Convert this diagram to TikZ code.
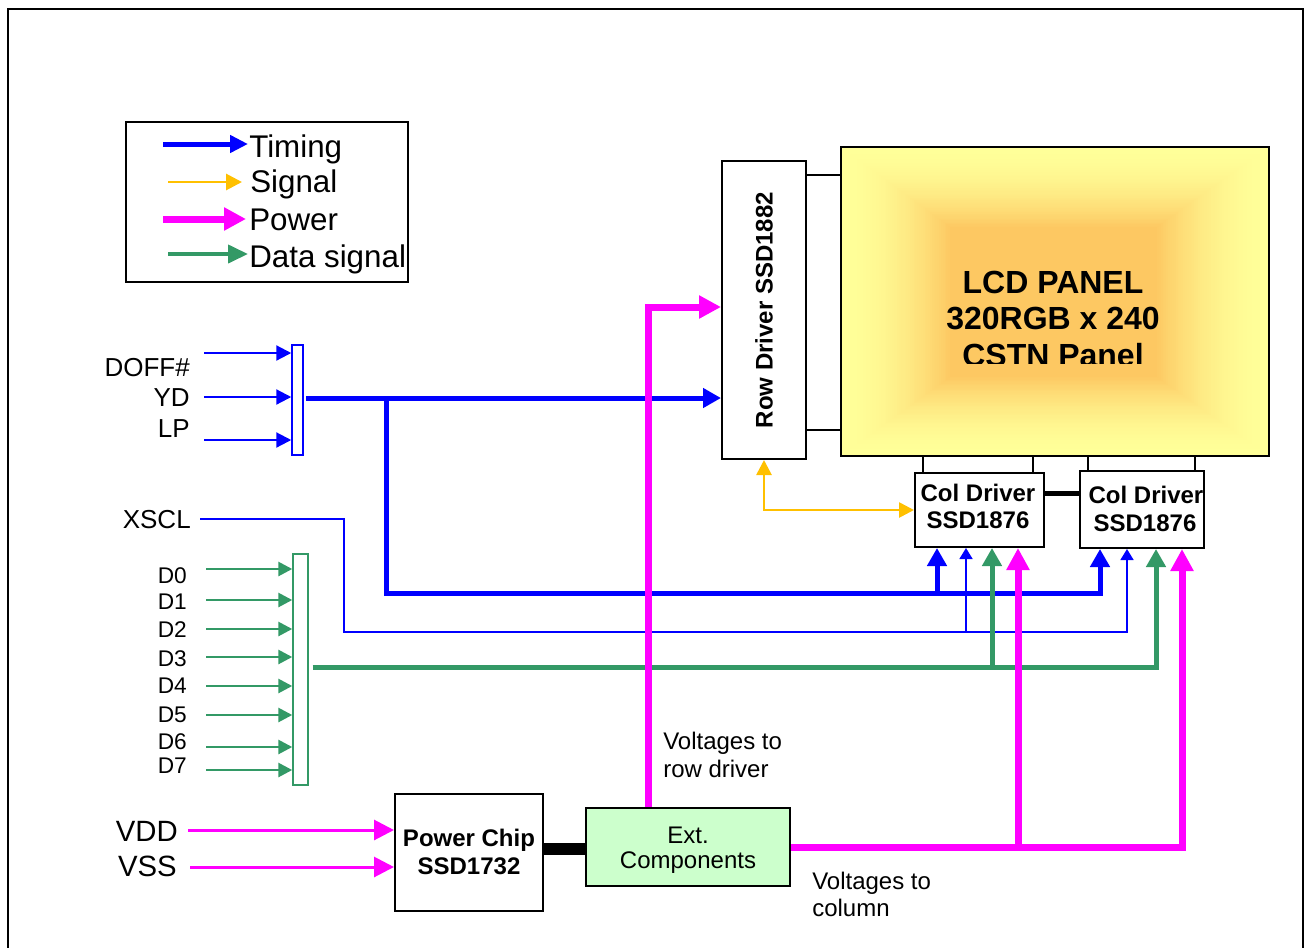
\documentclass[tikz,border=0pt]{standalone}
\usepackage{fontspec}
\setmainfont{Liberation Sans}
\usetikzlibrary{arrows.meta,calc}
\definecolor{tblue}{HTML}{0000FF}
\definecolor{syel}{HTML}{FFC000}
\definecolor{pmag}{HTML}{FF00FF}
\definecolor{dgrn}{HTML}{339966}
\definecolor{extg}{HTML}{CCFFCC}
\definecolor{lcdout}{HTML}{FFFF99}
\definecolor{lcdin}{HTML}{FDC862}
\begin{document}
\begin{tikzpicture}[x=0.75pt,y=-0.75pt,
  box/.style={draw, line width=1.5pt, inner sep=0pt, fill=white},
  lbl/.style={font=\fontsize{19.5}{22}\selectfont, inner sep=0pt},
  vlbl/.style={font=\fontsize{22}{25}\selectfont, inner sep=0pt},
  dlbl/.style={font=\fontsize{17}{20}\selectfont, inner sep=0pt},
  btxt/.style={font=\bfseries\fontsize{18}{21}\selectfont, inner sep=0pt},
  ntxt/.style={font=\fontsize{18}{21}\selectfont, inner sep=0pt},
  legtxt/.style={font=\fontsize{23.5}{28}\selectfont, inner sep=0pt},
  lcdtxt/.style={font=\bfseries\fontsize{24}{28}\selectfont, inner sep=0pt},
  tarrowthick/.style={draw=tblue, line width=3.75pt, -{Triangle[length=13.5pt,width=14.25pt]}},
  tarrowin/.style={draw=tblue, line width=1.6pt, -{Triangle[length=11.25pt,width=11.25pt]}},
  tarrowthin/.style={draw=tblue, line width=1.2pt, -{Triangle[length=8.25pt,width=9.75pt]}},
  parrowthick/.style={draw=pmag, line width=5.25pt, -{Triangle[length=16.5pt,width=16.5pt]}},
  parrowin/.style={draw=pmag, line width=2.25pt, -{Triangle[length=15pt,width=15pt]}},
  darrowthick/.style={draw=dgrn, line width=3.75pt, -{Triangle[length=13.5pt,width=14.25pt]}},
  darrowin/.style={draw=dgrn, line width=2.1pt, -{Triangle[length=10.5pt,width=10.5pt]}},
  sarrow/.style={draw=syel, line width=2pt, {Triangle[length=11.25pt,width=11.25pt]}-{Triangle[length=11.25pt,width=11.25pt]}},
  tick/.style={draw, line width=1.1pt},
  bus/.style={draw, line width=3.75pt},
]
\useasboundingbox (0,0) rectangle (1304,947);
\fill[white] (0,0) rectangle (1304,947);
% outer frame
\draw[line width=1.5pt] (8,9) rectangle (1303,960);

% legend
\node[box, minimum width=211.5pt, minimum height=120pt] (legend) at (267,202) {};
\coordinate (l1a) at (163,144); \coordinate (l1b) at (248,144);
\coordinate (l2a) at (168,182); \coordinate (l2b) at (242,182);
\coordinate (l3a) at (163,219); \coordinate (l3b) at (246,219);
\coordinate (l4a) at (168,254); \coordinate (l4b) at (248,254);
\draw[draw=tblue, line width=3.75pt, -{Triangle[length=13.5pt,width=12.75pt]}] (l1a) -- (l1b);
\draw[draw=syel, line width=2.2pt, -{Triangle[length=12pt,width=12pt]}] (l2a) -- (l2b);
\draw[draw=pmag, line width=5.25pt, -{Triangle[length=16.5pt,width=16.5pt]}] (l3a) -- (l3b);
\draw[draw=dgrn, line width=3pt, -{Triangle[length=15pt,width=13.5pt]}] (l4a) -- (l4b);
\node[legtxt, anchor=base west] (lgt1) at (249,157) {Timing};
\node[legtxt, anchor=base west] (lgt2) at (250,192) {Signal};
\node[legtxt, anchor=base west] (lgt3) at (249,230) {Power};
\node[legtxt, anchor=base west] (lgt4) at (249,267) {Data signal};

% LCD panel gradient
\foreach \i in {0,...,60}{
  \pgfmathsetmacro\xa{841+109*\i/60}
  \pgfmathsetmacro\ya{147+80*\i/60}
  \pgfmathsetmacro\xb{1269-112*\i/60}
  \pgfmathsetmacro\yb{456-79*\i/60}
  \pgfmathtruncatemacro\p{100*(\i/60)^1.8}
  \fill[lcdin!\p!lcdout] (\xa,\ya) rectangle (\xb,\yb);
}
\node[draw, line width=1.5pt, inner sep=0pt, minimum width=321pt, minimum height=231.75pt] (lcd) at (1055,301.5) {};
\node[lcdtxt, anchor=base] (lcdt1) at (1053,293) {LCD PANEL};
\node[lcdtxt, anchor=base] (lcdt2) at (1053,329) {320RGB x 240};
\begin{scope}
  \clip (841,147) rectangle (1269,363);
  \node[lcdtxt, anchor=base] (lcdt3) at (1053,366) {CSTN Panel};
\end{scope}

% row driver
\node[box, minimum width=63pt, minimum height=223.5pt] (row) at (764,310) {};
\node[btxt, rotate=90] (rowt) at (row.center) {Row Driver SSD1882};
\draw[tick] (row.east |- 0,175) -- (lcd.west |- 0,175);
\draw[tick] (row.east |- 0,430) -- (lcd.west |- 0,430);

% column drivers
\node[box, minimum width=96.75pt, minimum height=55.5pt] (col1) at (979.5,510) {};
\node[box, minimum width=93pt, minimum height=57.75pt] (col2) at (1142,509.5) {};
\node[btxt, anchor=base] (c1t1) at (978,501) {Col Driver};
\node[btxt, anchor=base] (c1t2) at (978,528) {SSD1876};
\node[btxt, anchor=base] (c2t1) at (1146,503) {Col Driver};
\node[btxt, anchor=base] (c2t2) at (1145,531) {SSD1876};
\draw[tick] (col1.north -| 923,0) -- (lcd.south -| 923,0);
\draw[tick] (col1.north -| 1033,0) -- (lcd.south -| 1033,0);
\draw[tick] (col2.north -| 1088,0) -- (lcd.south -| 1088,0);
\draw[tick] (col2.north -| 1195,0) -- (lcd.south -| 1195,0);
\draw[bus] (col1.east |- 0,493) -- (col2.west |- 0,493);

% power chip & ext components
\node[box, minimum width=111pt, minimum height=87.75pt] (pchip) at (469,852.5) {};
\node[btxt, anchor=base] (pct1) at (469,846) {Power Chip};
\node[btxt, anchor=base] (pct2) at (469,874) {SSD1732};
\node[box, fill=extg, minimum width=153pt, minimum height=58.5pt] (ext) at (688,847) {};
\node[ntxt, anchor=base] (ext1) at (688,843) {Ext.};
\node[ntxt, anchor=base] (ext2) at (688,868) {Components};
\draw[draw, line width=9pt] (pchip.east |- 0,849) -- (ext.west |- 0,849);

% timing bar and inputs
\node[draw=tblue, line width=1.1pt, fill=white, inner sep=0pt, minimum width=8.25pt, minimum height=82.5pt] (tbar) at (297.5,400) {};
\coordinate (doffs) at (204,353);
\coordinate (yds) at (204,397);
\coordinate (lps) at (204,440);
\draw[tarrowin] (doffs) -- (tbar.west |- doffs);
\draw[tarrowin] (yds) -- (tbar.west |- yds);
\draw[tarrowin] (lps) -- (tbar.west |- lps);
\node[lbl, anchor=base east] (ldoff) at (190,376) {DOFF\#};
\node[lbl, anchor=base east] (lyd) at (190,406) {YD};
\node[lbl, anchor=base east] (llp) at (190,437) {LP};

% thick timing
\draw[tarrowthick, shorten <=2pt] (tbar.east |- 0,398) -- (row.west |- 0,398);
\coordinate (tj) at (386,398);
\draw[tarrowthick] (tj) -- (386,593) -| (col2.south -| 1100,0);
\draw[tarrowthick] (937,593) -- (col1.south -| 937,0);

% XSCL
\node[lbl, anchor=base east] (lxscl) at (191,528) {XSCL};
\coordinate (xs) at (200,519);
\draw[tarrowthin] (xs) -- (344,519) -- (344,632) -| (col2.south -| 1127,0);
\draw[tarrowthin] (966,632) -- (col1.south -| 966,0);

% yellow signal
\draw[sarrow] (row.south) |- (col1.west);

% data bar and inputs
\node[draw=dgrn, line width=1.1pt, fill=white, inner sep=0pt, minimum width=11.25pt, minimum height=173.25pt] (dbar) at (300.5,669.5) {};
\foreach \n/\ya/\yb in {0/569/583, 1/600/609, 2/629/637, 3/657/666, 4/686/693, 5/715/722, 6/747/749, 7/770/773}{
  \coordinate (ds\n) at (206,\ya);
  \draw[darrowin] (ds\n) -- (dbar.west |- ds\n);
  \node[dlbl, anchor=base east] (ld\n) at (187,\yb) {D\n};
}
\draw[darrowthick, shorten <=3pt] (dbar.east |- 0,667) -| (col2.south -| 1156,0);
\draw[darrowthick] (992,667) -- (col1.south -| 992,0);

% power
\draw[parrowthick] (ext.north -| 648,0) |- (row.west |- 0,307);
\draw[parrowthick] (ext.east |- 0,847) -| (col2.south -| 1182,0);
\draw[parrowthick] (1018,847) -- (col1.south -| 1018,0);
\coordinate (vdds) at (188,830);
\coordinate (vsss) at (190,867);
\draw[parrowin] (vdds) -- (pchip.west |- vdds);
\draw[parrowin] (vsss) -- (pchip.west |- vsss);
\node[vlbl, anchor=base east] (lvdd) at (178,841) {VDD};
\node[vlbl, anchor=base east] (lvss) at (177,876) {VSS};

% voltage notes
\node[ntxt, anchor=base west] (vr1) at (663,749) {Voltages to};
\node[ntxt, anchor=base west] (vr2) at (663,777) {row driver};
\node[ntxt, anchor=base west] (vc1) at (812,889) {Voltages to};
\node[ntxt, anchor=base west] (vc2) at (812,916) {column};
\end{tikzpicture}
\end{document}
